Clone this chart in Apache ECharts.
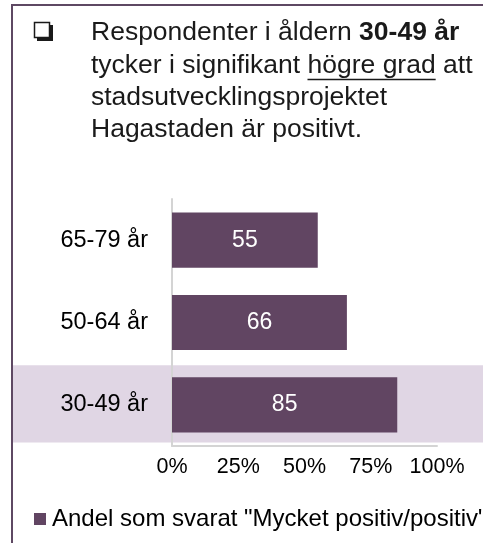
<!DOCTYPE html>
<html>
<head>
<meta charset="utf-8">
<script src="https://cdn.jsdelivr.net/npm/echarts@6/dist/echarts.min.js"></script>
<style>
  html, body { margin: 0; padding: 0; background: #fff; }
  #chart { width: 483px; height: 543px; }
</style>
</head>
<body>
<div id="chart"></div>
<script>
// data
var categories = ['65-79 år', '50-64 år', '30-49 år'];
var values = [55, 66, 85];
var tickValues = [0, 25, 50, 75, 100];
var seriesName = 'Andel som svarat "Mycket positiv/positiv"';
var highlighted = '30-49 år';

var FONT = "'Liberation Sans', Arial, sans-serif";
var BAR = '#614562';
var TITLE_SIZE = 26.5;

// width of a text run, used for the underline under "högre grad"
function textWidth(str, font) {
    var ctx = document.createElement('canvas').getContext('2d');
    ctx.font = font;
    return ctx.measureText(str).width;
}

var chart = echarts.init(document.getElementById('chart'));

var option = {
    animation: false,
    title: {
        left: 91,
        top: 17,
        padding: 0,
        text: 'Respondenter i åldern {b|30-49 år}\ntycker i signifikant högre grad att\nstadsutvecklingsprojektet\nHagastaden är positivt.',
        textStyle: {
            fontFamily: FONT,
            fontSize: TITLE_SIZE,
            fontWeight: 'normal',
            color: '#1a1a1a',
            lineHeight: 32.3,
            rich: {
                b: { fontFamily: FONT, fontSize: TITLE_SIZE, fontWeight: 'bold', color: '#1a1a1a', lineHeight: 32.3 }
            }
        }
    },
    legend: {
        left: 34,
        top: 507,
        padding: 0,
        icon: 'rect',
        itemWidth: 12,
        itemHeight: 12,
        textStyle: { fontFamily: FONT, fontSize: 24, color: '#000', padding: [0, 0, 0, 1] },
        data: [seriesName]
    },
    grid: { left: 172, right: 46, top: 199, bottom: 97 },
    xAxis: {
        type: 'value',
        min: 0,
        max: 100,
        interval: 25,
        axisLine: { show: true, lineStyle: { color: '#d4d4d4', width: 2 } },
        axisTick: { show: false },
        splitLine: { show: false },
        axisLabel: {
            margin: 10,
            fontFamily: FONT,
            fontSize: 21.5,
            color: '#000',
            formatter: function (v) { return tickValues.indexOf(v) >= 0 ? v + '%' : ''; }
        }
    },
    yAxis: {
        type: 'category',
        inverse: true,
        data: categories,
        axisLine: { show: true, lineStyle: { color: '#d4d4d4', width: 2 } },
        axisTick: { show: false },
        axisLabel: { margin: 24, fontFamily: FONT, fontSize: 23.5, color: '#000' }
    },
    series: [{
        name: seriesName,
        type: 'bar',
        data: values,
        barCategoryGap: '33%',
        z: 3,
        itemStyle: { color: BAR },
        label: {
            show: true,
            position: 'inside',
            fontFamily: FONT,
            fontSize: 23,
            color: '#fff'
        }
    }]
};
chart.setOption(option);

// highlight band behind the selected age group, frame and checkbox
var cy = chart.convertToPixel({ yAxisIndex: 0 }, highlighted);
var band = (543 - 97 - 199) / categories.length;
var bandH = band * 0.94;

var font = TITLE_SIZE + 'px ' + FONT;
var ulX = 91 + textWidth('tycker i signifikant ', font);
var ulW = textWidth('högre grad', font);

chart.setOption({
    graphic: [
        {
            type: 'rect', z: -10, silent: true,
            shape: { x: 13, y: cy - bandH / 2 - 1, width: 470, height: bandH },
            style: { fill: '#e0d6e4' }
        },
        {
            type: 'rect', z: 10, silent: true,
            shape: { x: 12, y: 5, width: 520, height: 600 },
            style: { fill: 'none', stroke: '#5e4863', lineWidth: 2 }
        },
        {
            type: 'rect', z: 10, silent: true,
            shape: { x: 37, y: 25, width: 16, height: 16 },
            style: { fill: '#1a1a1a' }
        },
        {
            type: 'rect', z: 11, silent: true,
            shape: { x: 34.5, y: 22.5, width: 15, height: 15 },
            style: { fill: '#fff', stroke: '#1a1a1a', lineWidth: 1.5 }
        },
        {
            type: 'line', z: 10, silent: true,
            shape: { x1: ulX, y1: 79.5, x2: ulX + ulW, y2: 79.5 },
            style: { stroke: '#1a1a1a', lineWidth: 1.5 }
        }
    ]
});
</script>
</body>
</html>
